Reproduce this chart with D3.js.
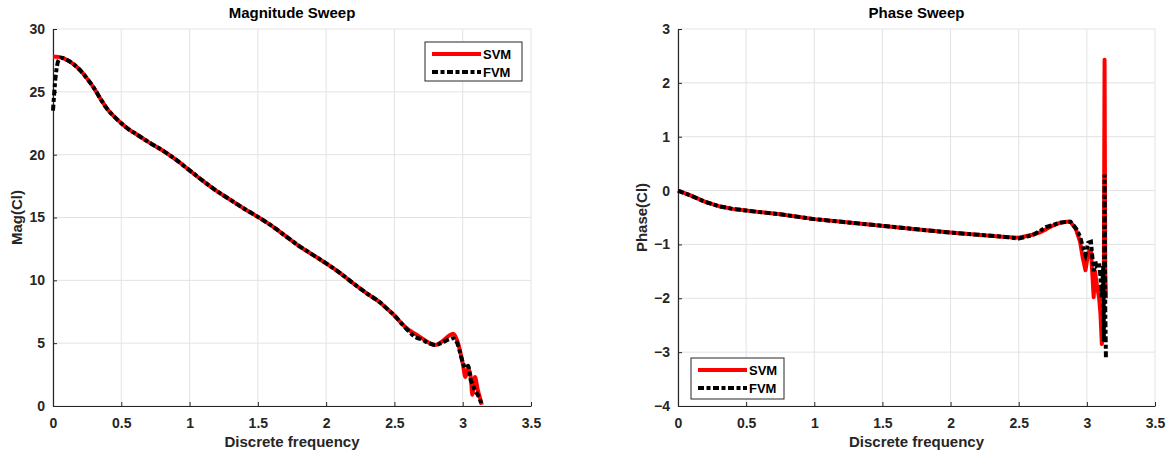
<!DOCTYPE html>
<html>
<head>
<meta charset="utf-8">
<script src="https://cdn.jsdelivr.net/npm/d3@7"></script>
<style>
  body { margin: 0; background: #fff; }
  svg { display: block; }
  text { font-family: "Liberation Sans", Arial, Helvetica, sans-serif; font-weight: bold; }
</style>
</head>
<body>
<svg id="chart" width="1170" height="456"></svg>
<script>
// ---------- DATA ----------
const magFreq = [0, 0.02, 0.04, 0.06, 0.1, 0.15, 0.2, 0.25, 0.3, 0.35, 0.4, 0.45, 0.5, 0.55, 0.6, 0.7, 0.8, 0.9, 1.0, 1.1, 1.2, 1.3, 1.4, 1.5, 1.6, 1.7, 1.8, 1.9, 2.0, 2.1, 2.2, 2.3, 2.4, 2.45, 2.5, 2.55, 2.6, 2.65, 2.7, 2.75, 2.8, 2.85, 2.9, 2.93, 2.96, 3.0, 3.02, 3.04, 3.06, 3.07, 3.09, 3.11, 3.13, 3.14];
const magSVM  = [27.8, 27.8, 27.78, 27.72, 27.55, 27.2, 26.7, 26.05, 25.3, 24.4, 23.6, 23.0, 22.5, 22.05, 21.7, 21.0, 20.35, 19.6, 18.75, 17.9, 17.1, 16.4, 15.7, 15.05, 14.35, 13.55, 12.75, 12.05, 11.35, 10.6, 9.75, 8.95, 8.2, 7.7, 7.2, 6.6, 6.1, 5.75, 5.4, 5.05, 4.85, 5.15, 5.6, 5.75, 5.2, 3.4, 2.3, 3.0, 2.2, 0.9, 2.3, 1.3, 0.5, 0.1];
const magFVM  = [23.5, 26.3, 27.5, 27.72, 27.55, 27.2, 26.7, 26.05, 25.3, 24.4, 23.6, 23.0, 22.5, 22.05, 21.7, 21.0, 20.35, 19.6, 18.75, 17.9, 17.1, 16.4, 15.7, 15.05, 14.35, 13.55, 12.75, 12.05, 11.35, 10.6, 9.75, 8.95, 8.2, 7.7, 7.2, 6.6, 6.0, 5.5, 5.3, 5.0, 4.85, 5.05, 5.3, 5.4, 5.0, 3.5, 3.0, 3.2, 2.0, 1.8, 1.2, 0.9, 0.4, 0.1];

const phFreq = [0, 0.1, 0.2, 0.3, 0.4, 0.5, 0.6, 0.75, 1.0, 1.2, 1.4, 1.6, 1.8, 2.0, 2.2, 2.4, 2.5, 2.6, 2.65, 2.7, 2.75, 2.8, 2.85, 2.88, 2.92, 2.95, 2.97, 2.99, 3.01, 3.03, 3.05, 3.06, 3.07, 3.09, 3.10, 3.11, 3.12, 3.125, 3.13, 3.135, 3.14];
const phSVM  = [0.0, -0.1, -0.21, -0.29, -0.34, -0.37, -0.40, -0.44, -0.53, -0.58, -0.63, -0.68, -0.73, -0.78, -0.82, -0.86, -0.875, -0.82, -0.78, -0.72, -0.65, -0.6, -0.58, -0.58, -0.72, -0.95, -1.25, -1.48, -1.15, -1.1, -1.98, -1.5, -1.7, -2.0, -2.3, -2.85, -2.6, -1.4, 2.43, -1.5, -2.0];
const phFVM  = [0.0, -0.1, -0.21, -0.29, -0.34, -0.37, -0.40, -0.44, -0.53, -0.58, -0.63, -0.68, -0.73, -0.78, -0.82, -0.86, -0.89, -0.83, -0.76, -0.68, -0.64, -0.6, -0.58, -0.58, -0.70, -0.85, -1.05, -1.2, -0.97, -0.95, -1.5, -1.3, -1.4, -1.35, -1.6, -2.0, -1.4, -2.8, 0.3, -2.2, -3.12];

const xTicks = [0, 0.5, 1, 1.5, 2, 2.5, 3, 3.5];
const magTicks = [0, 5, 10, 15, 20, 25, 30];
const phTicks = [-4, -3, -2, -1, 0, 1, 2, 3];
const seriesNames = ["SVM", "FVM"];

// ---------- DRAW ----------
const svg = d3.select("#chart");
const axisColor = "#262626";
const gridColor = "#e3e3e3";
const fvmDash = "6,2.5,4,2.5";

function panel(opts) {
  const { left, right, top, bottom, xDomain, yDomain, yTicks, title, ylabel, xs, s1, s2, legend, smooth } = opts;
  const x = d3.scaleLinear().domain(xDomain).range([left, right]);
  const y = d3.scaleLinear().domain(yDomain).range([bottom, top]);
  const g = svg.append("g");

  // grid
  g.append("g").selectAll("line").data(xTicks).join("line")
    .attr("x1", d => x(d)).attr("x2", d => x(d)).attr("y1", top).attr("y2", bottom)
    .attr("stroke", gridColor).attr("stroke-width", 1);
  g.append("g").selectAll("line").data(yTicks).join("line")
    .attr("x1", left).attr("x2", right).attr("y1", d => y(d)).attr("y2", d => y(d))
    .attr("stroke", gridColor).attr("stroke-width", 1);

  // axes
  const xa = g.append("g").attr("transform", `translate(0,${bottom})`)
    .call(d3.axisBottom(x).tickValues(xTicks).tickSizeInner(-4).tickSizeOuter(0).tickPadding(12).tickFormat(d3.format("")));
  const ya = g.append("g").attr("transform", `translate(${left},0)`)
    .call(d3.axisLeft(y).tickValues(yTicks).tickSizeInner(-4).tickSizeOuter(0).tickPadding(8).tickFormat(d3.format("")));
  [xa, ya].forEach(a => {
    a.select(".domain").attr("stroke", axisColor).attr("stroke-width", 1.2);
    a.selectAll(".tick line").attr("stroke", axisColor).attr("stroke-width", 1);
    a.selectAll(".tick text").attr("fill", axisColor).style("font-size", "14px").style("font-family", "'Liberation Sans', Arial, sans-serif").style("font-weight", "bold");
  });

  // lines
  const line = d3.line().x((d, i) => x(xs[i])).y(d => y(d)).curve(smooth ? d3.curveMonotoneX : d3.curveLinear);
  g.append("path").datum(s1).attr("d", line).attr("fill", "none")
    .attr("stroke", "#ff0000").attr("stroke-width", 4).attr("stroke-linejoin", "round");
  g.append("path").datum(s2).attr("d", line).attr("fill", "none")
    .attr("stroke", "#000").attr("stroke-width", 4).attr("stroke-dasharray", fvmDash);

  // title
  g.append("text").attr("x", (left + right) / 2).attr("y", 18).attr("text-anchor", "middle")
    .style("font-size", "15px").attr("fill", "#000").text(title);
  // x label
  g.append("text").attr("x", (left + right) / 2).attr("y", 447).attr("text-anchor", "middle")
    .style("font-size", "15px").attr("fill", axisColor).text("Discrete frequency");
  // y label
  g.append("text").attr("transform", `translate(${left - 31},${(top + bottom) / 2}) rotate(-90)`)
    .attr("text-anchor", "middle").style("font-size", "15px").attr("fill", axisColor).text(ylabel);

  // legend
  const L = legend;
  g.append("rect").attr("x", L.x).attr("y", L.y).attr("width", L.w).attr("height", L.h)
    .attr("fill", "#fff").attr("stroke", axisColor).attr("stroke-width", 1);
  const items = [
    { name: seriesNames[0], color: "#ff0000", dash: null },
    { name: seriesNames[1], color: "#000", dash: fvmDash }
  ];
  items.forEach((it, i) => {
    const yy = L.y + 12 + i * 18;
    g.append("line").attr("x1", L.x + 7).attr("x2", L.x + 56).attr("y1", yy).attr("y2", yy)
      .attr("stroke", it.color).attr("stroke-width", 4).attr("stroke-dasharray", it.dash);
    g.append("text").attr("x", L.x + 58).attr("y", yy + 5).style("font-size", "13px")
      .attr("fill", "#000").text(it.name);
  });
}

panel({
  left: 53, right: 531, top: 29, bottom: 406,
  xDomain: [0, 3.5], yDomain: [0, 30], yTicks: magTicks,
  title: "Magnitude Sweep", ylabel: "Mag(Cl)",
  xs: magFreq, s1: magSVM, s2: magFVM, smooth: true,
  legend: { x: 425, y: 42, w: 97, h: 39 }
});
panel({
  left: 678, right: 1155, top: 29, bottom: 406,
  xDomain: [0, 3.5], yDomain: [-4, 3], yTicks: phTicks,
  title: "Phase Sweep", ylabel: "Phase(Cl)",
  xs: phFreq, s1: phSVM, s2: phFVM, smooth: false,
  legend: { x: 691, y: 358, w: 93, h: 41 }
});
</script>
</body>
</html>
